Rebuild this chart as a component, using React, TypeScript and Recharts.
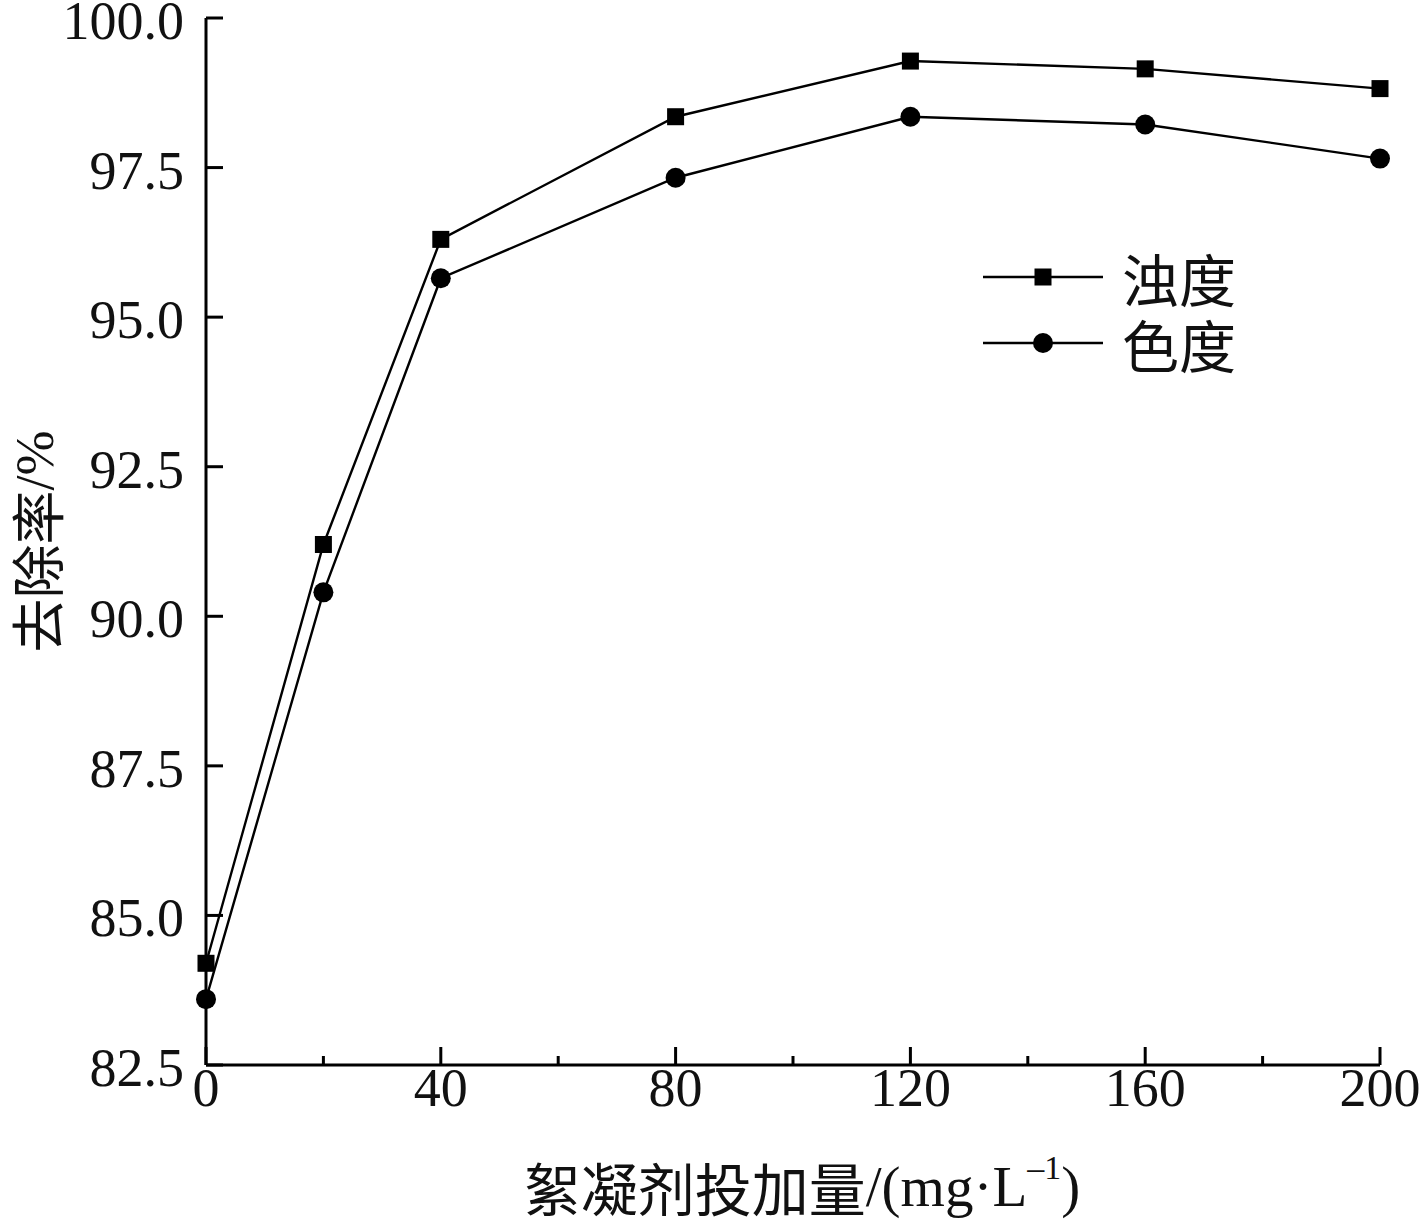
import React from "react";
import { LineChart, Line, XAxis, YAxis, Legend, Label } from "recharts";

const doses = [0, 20, 40, 80, 120, 160, 200];
const turbidity = [84.2, 91.2, 96.3, 98.35, 99.28, 99.15, 98.82];
const chroma = [83.6, 90.4, 95.65, 97.33, 98.35, 98.22, 97.65];

const xTicks = [0, 20, 40, 60, 80, 100, 120, 140, 160, 180, 200];
const xLabelTicks = [0, 40, 80, 120, 160, 200];
const yTicks = [82.5, 85, 87.5, 90, 92.5, 95, 97.5, 100];

const data = doses.map((d, i) => ({
  dose: d,
  turbidity: turbidity[i],
  chroma: chroma[i],
}));

const SERIF = "'Liberation Serif', 'Times New Roman', serif";
const CJK = "'Noto Sans CJK SC', sans-serif";
const INK = "#111";

function XTick({ x, y, payload }: any) {
  const major = xLabelTicks.includes(payload.value);
  return (
    <g>
      <line x1={x} x2={x} y1={y} y2={y - (major ? 18 : 9)} stroke="#000" strokeWidth={3} />
      {major && (
        <text x={x} y={y + 23} textAnchor="middle" dominantBaseline="central"
          fontSize={54} fontFamily={SERIF} fill={INK}>
          {payload.value}
        </text>
      )}
    </g>
  );
}

function YTick({ x, y, payload }: any) {
  return (
    <g>
      <line x1={x} x2={x + 17} y1={y} y2={y} stroke="#000" strokeWidth={3} />
      <text x={x - 22} y={y + 3} textAnchor="end" dominantBaseline="central"
        fontSize={54} fontFamily={SERIF} fill={INK}>
        {Number(payload.value).toFixed(1)}
      </text>
    </g>
  );
}

function SquareDot({ cx, cy, index }: any) {
  return <rect key={`sq-${index}`} x={cx - 8.5} y={cy - 8.5} width={17} height={17} fill="#000" />;
}

function CircleDot({ cx, cy, index }: any) {
  return <circle key={`ci-${index}`} cx={cx} cy={cy} r={10} fill="#000" />;
}

function XTitle({ viewBox }: any) {
  const cx = viewBox.x + viewBox.width / 2 + 9;
  return (
    <text x={cx} y={1186} textAnchor="middle" dominantBaseline="central" fontSize={57} fill={INK} fontFamily={SERIF}>
      <tspan fontFamily={CJK}>絮凝剂投加量</tspan>
      <tspan>/(mg·L</tspan>
      <tspan fontSize={34} dy={-19}>–1</tspan>
      <tspan dy={19}>)</tspan>
    </text>
  );
}

function YTitle({ viewBox }: any) {
  const cy = viewBox.y + viewBox.height / 2;
  return (
    <text x={35} y={cy} transform={`rotate(-90 35 ${cy})`} textAnchor="middle" dominantBaseline="central"
      fontSize={54} fill={INK} fontFamily={SERIF}>
      <tspan fontFamily={CJK}>去除率</tspan>
      <tspan>/%</tspan>
    </text>
  );
}

function LegendBox({ payload }: any) {
  return (
    <div>
      {(payload || []).map((entry: any) => (
        <div key={entry.value} style={{ display: "flex", alignItems: "center", height: 66 }}>
          <svg width={120} height={66}>
            <line x1={0} x2={120} y1={33} y2={33} stroke="#000" strokeWidth={2.5} />
            {entry.dataKey === "turbidity" ? (
              <rect x={51.5} y={24.5} width={17} height={17} fill="#000" />
            ) : (
              <circle cx={60} cy={33} r={10} fill="#000" />
            )}
          </svg>
          <span style={{ marginLeft: 19, fontSize: 57, fontFamily: CJK, lineHeight: 1, color: INK }}>
            {entry.value}
          </span>
        </div>
      ))}
    </div>
  );
}

export default function App() {
  return (
    <div style={{ position: "absolute", left: 0, top: 0, background: "#fff" }}>
      <LineChart width={1423} height={1226} data={data}
        margin={{ top: 18, right: 43, bottom: 0, left: 0 }}>
        <XAxis dataKey="dose" type="number" domain={[0, 200]} ticks={xTicks} interval={0}
          height={161} tickSize={0} tickMargin={0} tick={<XTick />} tickLine={false}
          axisLine={{ stroke: "#000", strokeWidth: 3 }}>
          <Label content={<XTitle />} />
        </XAxis>
        <YAxis type="number" domain={[82.5, 100]} ticks={yTicks} interval={0}
          width={206} tickSize={0} tickMargin={0} tick={<YTick />} tickLine={false}
          axisLine={{ stroke: "#000", strokeWidth: 3 }}>
          <Label content={<YTitle />} />
        </YAxis>
        <Legend layout="horizontal" verticalAlign="middle" align="center"
          content={<LegendBox />}
          wrapperStyle={{ left: 983, top: 244, width: "auto", right: "auto", bottom: "auto" }} />
        <Line dataKey="turbidity" name="浊度" stroke="#000" strokeWidth={2.4}
          dot={<SquareDot />} activeDot={false} isAnimationActive={false} />
        <Line dataKey="chroma" name="色度" stroke="#000" strokeWidth={2.4}
          dot={<CircleDot />} activeDot={false} isAnimationActive={false} />
      </LineChart>
    </div>
  );
}
